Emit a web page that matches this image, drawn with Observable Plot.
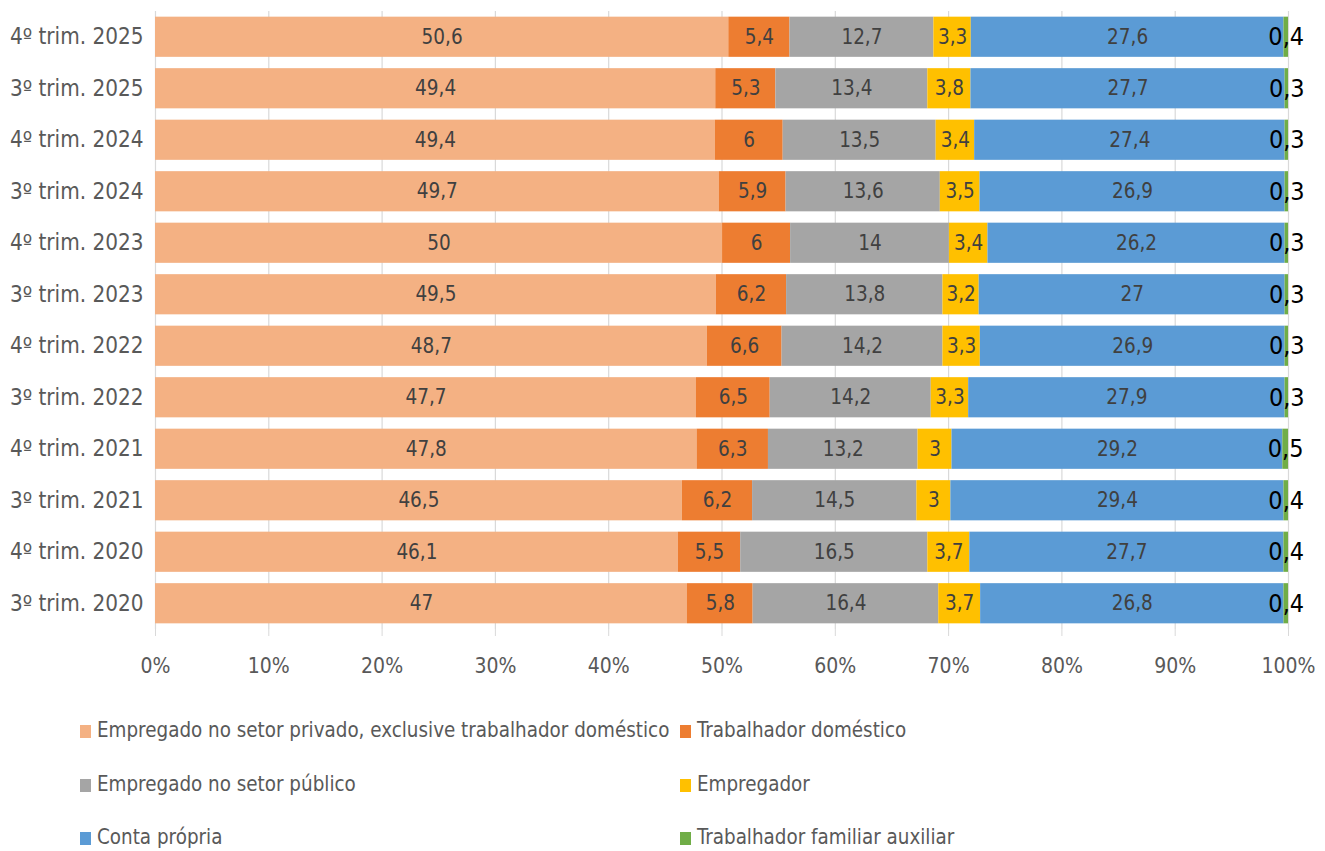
<!DOCTYPE html>
<html>
<head>
<meta charset="utf-8">
<script src="https://cdn.jsdelivr.net/npm/d3@7"></script>
<script src="https://cdn.jsdelivr.net/npm/@observablehq/plot@0.6"></script>
<style>
  html, body { margin: 0; padding: 0; background: #fff; }
  body { width: 1325px; height: 851px; position: relative; overflow: hidden;
         font-family: "DejaVu Sans Condensed", "Liberation Sans Narrow", "Open Sans", sans-serif; }
  #chart { position: absolute; left: 0; top: 0; }
  .leg { position: absolute; font-size: 20.4px; color: #595959; white-space: nowrap; line-height: 1; }
  .leg span.sw { display: inline-block; width: 11px; height: 13px; margin-right: 6px; vertical-align: -1px; }
</style>
</head>
<body>
<div id="chart"></div>
<div id="legend"></div>
<script>
const periods = ["4º trim. 2025","3º trim. 2025","4º trim. 2024","3º trim. 2024","4º trim. 2023","3º trim. 2023","4º trim. 2022","3º trim. 2022","4º trim. 2021","3º trim. 2021","4º trim. 2020","3º trim. 2020"];
const series = ["Empregado no setor privado, exclusive trabalhador doméstico","Trabalhador doméstico","Empregado no setor público","Empregador","Conta própria","Trabalhador familiar auxiliar"];
const colors = ["#F4B183","#ED7D31","#A5A5A5","#FFC000","#5B9BD5","#70AD47"];
const privado   = [50.6,49.4,49.4,49.7,50,49.5,48.7,47.7,47.8,46.5,46.1,47];
const domestico = [5.4,5.3,6,5.9,6,6.2,6.6,6.5,6.3,6.2,5.5,5.8];
const publico   = [12.7,13.4,13.5,13.6,14,13.8,14.2,14.2,13.2,14.5,16.5,16.4];
const empregador= [3.3,3.8,3.4,3.5,3.4,3.2,3.3,3.3,3,3,3.7,3.7];
const conta     = [27.6,27.7,27.4,26.9,26.2,27,26.9,27.9,29.2,29.4,27.7,26.8];
const familiar  = [0.4,0.3,0.3,0.3,0.3,0.3,0.3,0.3,0.5,0.4,0.4,0.4];
const xTicks = [0,0.1,0.2,0.3,0.4,0.5,0.6,0.7,0.8,0.9,1];

const valueArrays = [privado, domestico, publico, empregador, conta, familiar];
const data = [];
series.forEach((s, si) => periods.forEach((p, pi) => data.push({period: p, series: s, value: valueArrays[si][pi], si})));
const fmt = v => String(v).replace(".", ",");
const ff = '"DejaVu Sans Condensed", "Liberation Sans Narrow", sans-serif';

const chart = Plot.plot({
  width: 1325,
  height: 690,
  marginLeft: 155,
  marginRight: 37,
  marginTop: 11,
  marginBottom: 61,
  style: {fontFamily: ff, background: "#fff"},
  x: {domain: [0, 1], ticks: xTicks, tickFormat: d => Math.round(d * 100) + "%", label: null},
  y: {domain: periods, padding: 0.22, paddingOuter: 0.11, round: false, label: null},
  color: {domain: series, range: colors},
  marks: [
    Plot.ruleX(xTicks, {stroke: "#d9d9d9", strokeWidth: 1.2}),
    Plot.axisX({ticks: xTicks, tickFormat: d => Math.round(d * 100) + "%", tickSize: 7, tickPadding: 22, stroke: "#d9d9d9", fontSize: 21, fill: "#595959"}),
    Plot.axisY({tickSize: 0, tickPadding: 12, fontSize: 22.3, fill: "#595959"}),
    Plot.barX(data, Plot.stackX({x: "value", y: "period", fill: "series", offset: "normalize", order: series})),
    Plot.text(data, Plot.stackX({x: "value", y: "period", z: "series", offset: "normalize", order: series, text: d => d.si < 5 ? fmt(d.value) : "", fill: "#404040", fontSize: 20.5})),
    Plot.text(data, Plot.stackX({x: "value", y: "period", z: "series", offset: "normalize", order: series, text: d => d.si === 5 ? fmt(d.value) : "", fill: "#000", fontSize: 25}))
  ]
});
document.getElementById("chart").appendChild(chart);

const legPos = [[80,720],[680,720],[80,774],[680,774],[80,827],[680,827]];
const leg = document.getElementById("legend");
series.forEach((s, i) => {
  const d = document.createElement("div");
  d.className = "leg";
  d.style.left = legPos[i][0] + "px";
  d.style.top = legPos[i][1] + "px";
  d.innerHTML = `<span class="sw" style="background:${colors[i]}"></span>${s}`;
  leg.appendChild(d);
});
</script>
</body>
</html>
